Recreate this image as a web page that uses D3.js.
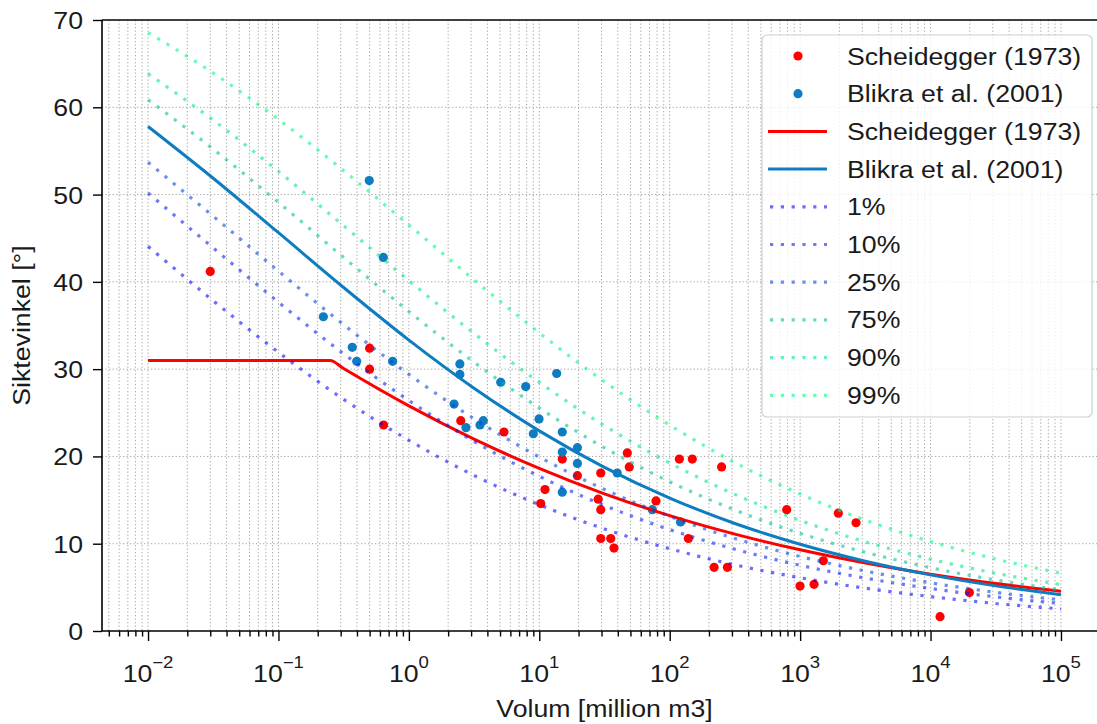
<!DOCTYPE html>
<html>
<head>
<meta charset="utf-8">
<script src="https://cdn.jsdelivr.net/npm/d3@7"></script>
<style>
  html, body { margin: 0; padding: 0; background: #fff; }
  svg { display: block; }
  text { font-family: "Liberation Sans", Arial, sans-serif; font-size: 23px; fill: #1a1a1a; }
</style>
</head>
<body>
<svg id="chart" width="1097" height="724"></svg>
<script>
// ---------------- DATA ----------------
const scheideggerPtsV = [0.03, 0.5, 0.5, 0.64, 2.5, 5.36, 10.25, 11.06, 15.0, 19.6, 29.6, 28.3, 29.6, 47.3, 49.0, 29.6, 35.3, 37.4, 78.5, 118.5, 149, 139, 250, 219, 277, 789, 1963, 2683, 1507, 998, 1279, 19860, 11830];
const scheideggerPtsA = [41.2, 32.4, 30.0, 23.6, 24.1, 22.8, 14.6, 16.2, 19.7, 17.8, 18.1, 15.1, 13.9, 20.4, 18.8, 10.6, 10.6, 9.5, 14.9, 19.7, 19.7, 10.6, 18.8, 7.3, 7.3, 13.9, 13.5, 12.4, 8.05, 5.15, 5.35, 4.4, 1.64];

const blikraPtsV = [0.497, 0.637, 0.221, 0.368, 0.398, 0.751, 2.46, 2.46, 2.22, 2.74, 3.51, 3.72, 5.06, 7.87, 13.6, 9.95, 9.0, 15.0, 19.6, 15.0, 19.6, 15.0, 39.6, 73.6, 121];
const blikraPtsA = [51.6, 42.8, 36.0, 32.5, 30.9, 30.9, 30.6, 29.4, 26.0, 23.3, 23.6, 24.1, 28.5, 28.0, 29.5, 24.3, 22.6, 22.8, 21.0, 20.5, 19.2, 15.9, 18.1, 13.9, 12.5];

// curve sample volumes (million m3)
const curveV = [0.01, 0.0316, 0.1, 0.316, 1, 3.16, 10, 31.6, 100, 316, 1000, 3162, 10000, 31623, 100000];

const scheideggerLineV = [0.01, 0.0316, 0.1, 0.249, 0.316, 1, 3.16, 10, 31.6, 100, 316, 1000, 3162, 10000, 31623, 100000];
const scheideggerLineA = [31.0, 31.0, 31.0, 31.0, 30.07, 25.79, 21.98, 18.63, 15.71, 13.22, 11.10, 9.30, 7.79, 6.51, 5.44, 4.55];

const blikraLineA = [57.80, 51.87, 45.63, 39.35, 33.33, 27.82, 22.93, 18.75, 15.23, 12.32, 9.94, 8.00, 6.43, 5.17, 4.15];

const percentileLabels = ["1%", "10%", "25%", "75%", "90%", "99%"];
const p1  = [44.07, 37.84, 31.93, 26.54, 21.85, 17.82, 14.46, 11.69, 9.43, 7.58, 6.10, 4.90, 3.94, 3.15, 2.53];
const p10 = [50.18, 43.89, 37.67, 31.76, 26.41, 21.72, 17.72, 14.38, 11.62, 9.37, 7.53, 6.06, 4.87, 3.91, 3.14];
const p25 = [53.70, 47.52, 41.23, 35.09, 29.40, 24.32, 19.93, 16.22, 13.13, 10.60, 8.54, 6.87, 5.52, 4.43, 3.56];
const p75 = [60.87, 55.21, 49.11, 42.80, 36.61, 30.80, 25.55, 20.99, 17.10, 13.86, 11.19, 9.02, 7.26, 5.84, 4.69];
const p90 = [63.85, 58.53, 52.66, 46.43, 40.14, 34.09, 28.49, 23.52, 19.25, 15.65, 12.66, 10.22, 8.23, 6.62, 5.31];
const p99 = [68.56, 63.92, 58.61, 52.74, 46.52, 40.23, 34.16, 28.56, 23.59, 19.30, 15.70, 12.70, 10.25, 8.25, 6.63];
const percentileValues = [p1, p10, p25, p75, p90, p99];

const xMajorExp = [-2, -1, 0, 1, 2, 3, 4, 5];
const yTicks = [0, 10, 20, 30, 40, 50, 60, 70];
const legendLabels = ["Scheidegger (1973)", "Blikra et al. (2001)", "Scheidegger (1973)", "Blikra et al. (2001)"];
const xLabel = "Volum [million m3]";
const yLabel = "Siktevinkel [°]";

// ---------------- STYLE ----------------
const RED = "#ff0000";
const BLUE = "#0e7cc1";
const pctColors = ["rgba(0,3,254,0.58)", "rgba(0,26,242,0.58)", "rgba(0,64,223,0.58)",
                   "rgba(0,191,159,0.6)", "rgba(0,230,140,0.6)", "rgba(0,252,129,0.6)"];
const SX = 1.16; // horizontal text stretch of the reference
const GRID = "#a6a6a6";

// ---------------- CHART ----------------
const svg = d3.select("#chart");
const padL = 102, padR = 1107, padT = 20, padB = 631;

const x = d3.scaleLog().domain([Math.pow(10, -2.353), Math.pow(10, 5.353)]).range([padL, padR]);
const y = d3.scaleLinear().domain([0, 70]).range([padB, padT]);

function stretchedText(parent, tx, ty, anchor, str, extra) {
  const g = parent.append("g").attr("transform", `translate(${tx},${ty}) ${extra || ""} scale(${SX},1)`);
  return g.append("text").attr("text-anchor", anchor).text(str);
}

// minor/major x values
const xMajors = xMajorExp.map(e => Math.pow(10, e));
const xMinors = [];
for (let e = -3; e <= 5; e++) {
  for (let m = 2; m <= 9; m++) {
    const v = m * Math.pow(10, e);
    if (v > x.domain()[0] && v < x.domain()[1]) xMinors.push(v);
  }
}

// grid
const grid = svg.append("g");
grid.selectAll("line.vx").data(xMajors.concat(xMinors)).join("line")
  .attr("x1", d => x(d)).attr("x2", d => x(d)).attr("y1", padT).attr("y2", padB)
  .attr("stroke", GRID).attr("stroke-width", 1).attr("stroke-dasharray", "1.3,2.2");
grid.selectAll("line.hy").data(yTicks.slice(1, -1)).join("line")
  .attr("x1", padL).attr("x2", padR).attr("y1", d => y(d)).attr("y2", d => y(d))
  .attr("stroke", GRID).attr("stroke-width", 1).attr("stroke-dasharray", "1.3,2.2");

// scatter points
svg.append("g").selectAll("circle").data(scheideggerPtsV.map((v, i) => [v, scheideggerPtsA[i]])).join("circle")
  .attr("cx", d => x(d[0])).attr("cy", d => y(d[1])).attr("r", 4.6).attr("fill", RED);
svg.append("g").selectAll("circle").data(blikraPtsV.map((v, i) => [v, blikraPtsA[i]])).join("circle")
  .attr("cx", d => x(d[0])).attr("cy", d => y(d[1])).attr("r", 4.6).attr("fill", BLUE);

const line = d3.line().x(d => x(d[0])).y(d => y(d[1])).curve(d3.curveMonotoneX);

svg.append("path").datum(scheideggerLineV.map((v, i) => [v, scheideggerLineA[i]]))
  .attr("d", line).attr("fill", "none").attr("stroke", RED).attr("stroke-width", 3);
svg.append("path").datum(curveV.map((v, i) => [v, blikraLineA[i]]))
  .attr("d", line).attr("fill", "none").attr("stroke", BLUE).attr("stroke-width", 3);

percentileValues.forEach((arr, k) => {
  svg.append("path").datum(curveV.map((v, i) => [v, arr[i]]))
    .attr("d", line).attr("fill", "none").attr("stroke", pctColors[k])
    .attr("stroke-width", 3.2).attr("stroke-dasharray", "3.2,7.6");
});

// axes
const xAxisMajor = svg.append("g").attr("transform", `translate(0,${padB})`)
  .call(d3.axisBottom(x).tickValues(xMajors).tickSize(10).tickSizeOuter(0).tickFormat(""));
const xAxisMinor = svg.append("g").attr("transform", `translate(0,${padB})`)
  .call(d3.axisBottom(x).tickValues(xMinors).tickSize(5.5).tickSizeOuter(0).tickFormat(""));
[xAxisMajor, xAxisMinor].forEach(a => {
  a.select(".domain").remove();
  a.selectAll(".tick line").attr("stroke", "#000").attr("stroke-width", 1.4);
});
xMajorExp.forEach(e => {
  const t = stretchedText(svg, x(Math.pow(10, e)), 682, "middle", "");
  t.append("tspan").text("10");
  t.append("tspan").attr("dy", -14).style("font-size", "16px").text(e < 0 ? "\u2212" + Math.abs(e) : String(e));
});

const yAxis = svg.append("g").attr("transform", `translate(${padL},0)`)
  .call(d3.axisLeft(y).tickValues(yTicks).tickSize(9).tickSizeOuter(0).tickFormat(""));
yAxis.select(".domain").remove();
yAxis.selectAll(".tick line").attr("stroke", "#000").attr("stroke-width", 1.4);
yTicks.forEach(v => stretchedText(svg, 83, y(v) + 9, "end", String(v)));

// spines
svg.append("line").attr("x1", padL).attr("x2", padL).attr("y1", padT).attr("y2", padB).attr("stroke", "#000").attr("stroke-width", 1.6);
svg.append("line").attr("x1", padL).attr("x2", padR).attr("y1", padB).attr("y2", padB).attr("stroke", "#000").attr("stroke-width", 1.6);
svg.append("line").attr("x1", padL).attr("x2", padR).attr("y1", padT).attr("y2", padT).attr("stroke", "#000").attr("stroke-width", 1.6);
svg.append("line").attr("x1", padR).attr("x2", padR).attr("y1", padT).attr("y2", padB).attr("stroke", "#000").attr("stroke-width", 1.6);

// axis labels
stretchedText(svg, (padL + padR) / 2, 717, "middle", xLabel);
stretchedText(svg, 30, (padT + padB) / 2, "middle", yLabel, "rotate(-90)");

// legend
const lg = svg.append("g");
lg.append("rect").attr("x", 762).attr("y", 35).attr("width", 330).attr("height", 382).attr("rx", 5)
  .attr("fill", "rgba(255,255,255,0.8)").attr("stroke", "#cfcfcf").attr("stroke-width", 1.2);
const rowY = i => 56 + i * 37.7;
const allLabels = legendLabels.concat(percentileLabels);
allLabels.forEach((lab, i) => {
  const cy = rowY(i);
  if (i === 0 || i === 1) {
    lg.append("circle").attr("cx", 798).attr("cy", cy).attr("r", 4.6).attr("fill", i === 0 ? RED : BLUE);
  } else if (i === 2 || i === 3) {
    lg.append("line").attr("x1", 768).attr("x2", 827).attr("y1", cy).attr("y2", cy)
      .attr("stroke", i === 2 ? RED : BLUE).attr("stroke-width", 3);
  } else {
    lg.append("line").attr("x1", 770).attr("x2", 827).attr("y1", cy).attr("y2", cy)
      .attr("stroke", pctColors[i - 4]).attr("stroke-width", 3.2).attr("stroke-dasharray", "3.2,7.6");
  }
  stretchedText(lg, 847, cy + 8.5, "start", lab);
});
</script>
</body>
</html>
